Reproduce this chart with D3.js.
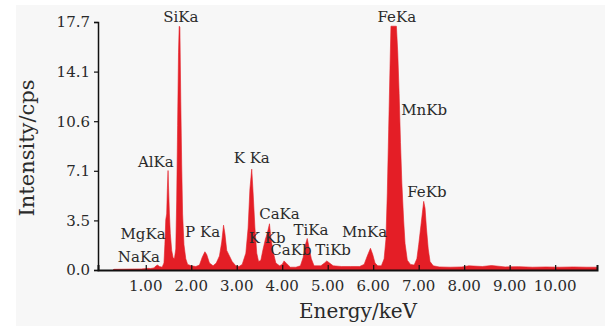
<!DOCTYPE html>
<html>
<head>
<meta charset="utf-8">
<script src="https://cdn.jsdelivr.net/npm/d3@7"></script>
<style>
  html, body { margin: 0; padding: 0; background: #fff; }
  svg text { font-family: "DejaVu Serif", serif; fill: #2a2a2a; }
</style>
</head>
<body>
<div id="chart"></div>
<script>
// Spectrum: energy (keV) and intensity (cps)
const energy = [
  0.28, 0.30, 0.50, 0.70, 0.90, 1.00, 1.05, 1.10, 1.18, 1.22, 1.26, 1.30, 1.36,
  1.40, 1.42, 1.44, 1.46, 1.475, 1.49, 1.50, 1.52, 1.54, 1.57, 1.60, 1.63,
  1.66, 1.68, 1.70, 1.72, 1.735, 1.75, 1.77, 1.79, 1.81, 1.84, 1.88, 1.92,
  2.00, 2.10, 2.18, 2.24, 2.30, 2.34, 2.40, 2.48, 2.55, 2.62, 2.67, 2.71,
  2.74, 2.78, 2.84, 2.90, 2.98, 3.05, 3.12, 3.20, 3.25, 3.29, 3.33, 3.36,
  3.40, 3.44, 3.48, 3.53, 3.58, 3.63, 3.67, 3.72, 3.75, 3.80, 3.86, 3.94,
  4.00, 4.04, 4.10, 4.18, 4.30, 4.40, 4.46, 4.51, 4.55, 4.59, 4.64, 4.70,
  4.85, 4.93, 4.98, 5.04, 5.12, 5.30, 5.50, 5.70, 5.80, 5.87, 5.94, 5.99,
  6.04, 6.10, 6.18, 6.24, 6.28, 6.31, 6.34, 6.37, 6.39, 6.51, 6.54, 6.57,
  6.60, 6.63, 6.67, 6.70, 6.75, 6.82, 6.90, 6.96, 7.00, 7.05, 7.11, 7.14,
  7.17, 7.21, 7.25, 7.32, 7.45, 7.70, 7.95, 8.10, 8.40, 8.60, 8.90, 9.20,
  9.50, 9.80, 10.10, 10.40, 10.70, 10.92
];
const intensity = [
  0.00, 0.05, 0.06, 0.07, 0.08, 0.10, 0.12, 0.10, 0.15, 0.28, 0.35, 0.25, 0.20,
  0.50, 1.80, 3.60, 4.00, 5.80, 7.10, 6.00, 4.00, 2.60, 1.40, 0.90, 0.80,
  1.50, 5.00, 10.30, 15.50, 17.40, 17.35, 12.00, 7.50, 4.00, 1.80, 0.80, 0.40,
  0.30, 0.25, 0.35, 0.90, 1.30, 1.10, 0.50, 0.30, 0.50, 1.00, 2.00, 3.20,
  2.60, 1.40, 1.00, 0.60, 0.30, 0.25, 0.40, 1.20, 3.00, 5.80, 7.20, 5.50,
  3.00, 1.20, 0.60, 0.70, 1.50, 2.20, 2.60, 3.30, 2.30, 1.30, 0.50, 0.30,
  0.40, 0.65, 0.45, 0.20, 0.20, 0.30, 0.90, 1.80, 2.25, 1.60, 0.80, 0.30,
  0.30, 0.50, 0.65, 0.50, 0.30, 0.25, 0.25, 0.25, 0.40, 1.00, 1.55, 1.10,
  0.50, 0.30, 0.30, 0.80, 2.20, 5.50, 10.00, 14.50, 17.40, 17.40, 15.50, 12.60,
  9.10, 6.20, 3.50, 1.90, 0.70, 0.40, 0.35, 0.80, 1.80, 3.20, 4.90, 4.40,
  3.00, 1.50, 0.60, 0.30, 0.22, 0.20, 0.22, 0.30, 0.25, 0.32, 0.22, 0.24,
  0.20, 0.22, 0.20, 0.22, 0.20, 0.20
];

// Line labels: name, energy and intensity where the label sits
const lineNames = ["NaKa", "MgKa", "AlKa", "SiKa", "P Ka", "K Ka", "K Kb", "CaKa",
                   "CaKb", "TiKa", "TiKb", "MnKa", "FeKa", "MnKb", "FeKb"];
const lineEnergy = [0.85, 0.94, 1.22, 1.77, 2.25, 3.33, 3.67, 3.94,
                    4.19, 4.63, 5.12, 5.81, 6.52, 7.12, 7.18];
const lineLevel = [0.57, 2.21, 7.37, 17.7, 2.36, 7.64, 1.93, 3.64,
                   1.07, 2.50, 1.07, 2.36, 17.72, 11.06, 5.23];

const xTicks = [1, 2, 3, 4, 5, 6, 7, 8, 9, 10];
const yTicks = [0, 3.54, 7.08, 10.62, 14.16, 17.7];
const yTickLabels = ["0.0", "3.5", "7.1", "10.6", "14.1", "17.7"];

const width = 615;
const height = 326;
const red = "#e41e26";

const svg = d3.select("#chart").append("svg")
    .attr("width", width)
    .attr("height", height);

svg.append("rect").attr("width", width).attr("height", height).attr("fill", "#fff");
svg.append("rect")
    .attr("x", 16).attr("y", 5)
    .attr("width", 589).attr("height", height - 5)
    .attr("fill", "#f7f7f7");

const x = d3.scaleLinear().domain([-0.05, 10.92]).range([98, 597]);
const y = d3.scaleLinear().domain([0, 17.7]).range([270, 22]);

const spectrum = energy.map(function(e, i) { return [e, intensity[i]]; });

const area = d3.area()
    .x(function(d) { return x(d[0]); })
    .y0(y(0))
    .y1(function(d) { return y(d[1]); });

svg.append("path")
    .datum(spectrum)
    .attr("d", area)
    .attr("fill", red)
    .attr("stroke", red)
    .attr("stroke-width", 0.6);

// x axis: ticks point up into the plot
const xAxis = d3.axisTop(x)
    .tickValues(xTicks)
    .tickSize(5)
    .tickFormat("");
const gx = svg.append("g")
    .attr("transform", "translate(0," + y(0) + ")")
    .call(xAxis);
gx.select(".domain").attr("stroke", "#111").attr("stroke-width", 2);
gx.selectAll(".tick line").attr("stroke", "#111").attr("stroke-width", 1.2);

svg.append("g").selectAll("text")
    .data(xTicks)
    .join("text")
    .attr("x", function(d) { return x(d); })
    .attr("y", 291)
    .attr("text-anchor", "middle")
    .attr("font-size", 15)
    .text(function(d) { return d.toFixed(2); });

// y axis
const yAxis = d3.axisLeft(y)
    .tickValues(yTicks)
    .tickSize(4)
    .tickPadding(4)
    .tickFormat(function(d, i) { return yTickLabels[i]; });
const gy = svg.append("g")
    .attr("transform", "translate(98,0)")
    .call(yAxis);
gy.select(".domain").attr("stroke", "#111").attr("stroke-width", 1.5);
gy.selectAll(".tick line").attr("stroke", "#111").attr("stroke-width", 1.2);
gy.selectAll(".tick text")
    .attr("font-family", "DejaVu Serif, serif")
    .attr("font-size", 15)
    .attr("fill", "#2a2a2a");

// peak labels
svg.append("g").selectAll("text")
    .data(lineNames)
    .join("text")
    .attr("x", function(d, i) { return x(lineEnergy[i]); })
    .attr("y", function(d, i) { return y(lineLevel[i]); })
    .attr("text-anchor", "middle")
    .attr("font-size", 15)
    .text(function(d) { return d; });

// axis titles
svg.append("text")
    .attr("x", 358)
    .attr("y", 318)
    .attr("text-anchor", "middle")
    .attr("font-size", 20)
    .text("Energy/keV");

svg.append("text")
    .attr("transform", "translate(34,148) rotate(-90)")
    .attr("text-anchor", "middle")
    .attr("font-size", 21)
    .text("Intensity/cps");
</script>
</body>
</html>
